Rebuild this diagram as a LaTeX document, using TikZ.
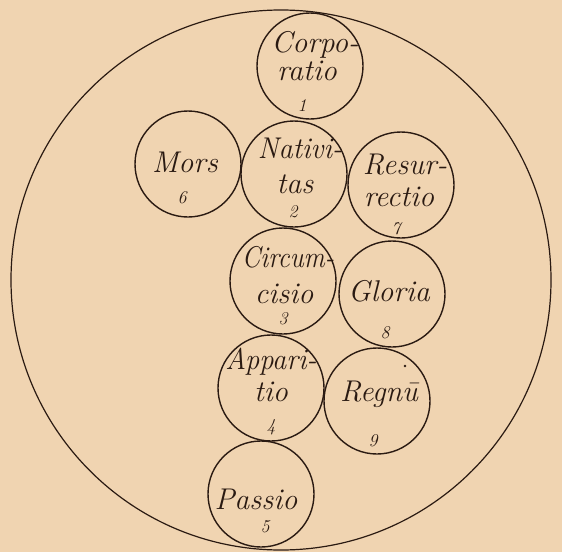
\documentclass[tikz,border=0pt]{standalone}
\usepackage{xcolor}
\definecolor{paper}{RGB}{240,212,177}
\definecolor{ink}{RGB}{42,26,18}
\tikzset{
  disc/.style={circle,draw=ink,line width=1.4pt,minimum size=106pt,inner sep=0pt},
  word/.style={text=ink,font=\fontsize{30}{30}\selectfont\itshape,anchor=base,inner sep=0pt},
  num/.style={text=ink,font=\fontsize{18}{18}\selectfont\itshape,inner sep=0pt},
}

\begin{document}
\begin{tikzpicture}[x=1pt,y=-1pt]
% ---------- page ----------
\useasboundingbox (0,0) rectangle (562,552);
\fill[paper] (0,0) rectangle (562,552);
% ---------- outer circle ----------
\draw[ink,line width=1.2pt] (281,280) circle (270pt);
% ---------- middle column ----------
\begin{scope}[shift={(310,66)}]
  \node[disc] (corpo) at (0,0) {};
  \node[word] (corpo-a) at (5,-14) {Corpo-};
  \node[word] (corpo-b) at (-3,14) {ratio};
  \node[num] (corpo-n) at (-8,40) {1};
\end{scope}
\begin{scope}[shift={(294,174)}]
  \node[disc] (nativ) at (0,0) {};
  \node[word,xscale=0.95] (nativ-a) at (6,-16) {Nativi-};
  \node[word] (nativ-b) at (1,19) {tas};
  \node[num] (nativ-n) at (-1,38) {2};
\end{scope}
\begin{scope}[shift={(283,281)}]
  \node[disc] (circum) at (0,0) {};
  \node[word,xscale=0.88] (circum-a) at (5,-14) {Circum-};
  \node[word] (circum-b) at (1,22) {cisio};
  \node[num] (circum-n) at (0,38) {3};
\end{scope}
\begin{scope}[shift={(271,388)}]
  \node[disc] (appar) at (0,0) {};
  \node[word,xscale=0.95] (appar-a) at (0,-19) {Appari-};
  \node[word] (appar-b) at (0,13) {tio};
  \node[num] (appar-n) at (0,39) {4};
\end{scope}
\begin{scope}[shift={(261,494)}]
  \node[disc] (passio) at (0,0) {};
  \node[word] (passio-a) at (-5,15) {Passio};
  \node[num] (passio-n) at (4,33) {5};
\end{scope}
% ---------- left ----------
\begin{scope}[shift={(188,164)}]
  \node[disc] (mors) at (0,0) {};
  \node[word] (mors-a) at (-3,8) {Mors};
  \node[num] (mors-n) at (-6,34) {6};
\end{scope}
% ---------- right column ----------
\begin{scope}[shift={(401,185)}]
  \node[disc] (resur) at (0,0) {};
  \node[word] (resur-a) at (4,-11) {Resur-};
  \node[word] (resur-b) at (-2,21) {rectio};
  \node[num] (resur-n) at (-5,44) {7};
\end{scope}
\begin{scope}[shift={(392,294)}]
  \node[disc] (gloria) at (0,0) {};
  \node[word] (gloria-a) at (-3,7) {Gloria};
  \node[num] (gloria-n) at (-7,39) {8};
\end{scope}
\begin{scope}[shift={(377,401)}]
  \node[disc] (regnu) at (0,0) {};
  \node[word] (regnu-a) at (2,0) {Regnū};
  \node[num] (regnu-n) at (-4,40) {9};
  \fill[ink] (28,-35) circle (1.3pt);
\end{scope}
\end{tikzpicture}
\end{document}
